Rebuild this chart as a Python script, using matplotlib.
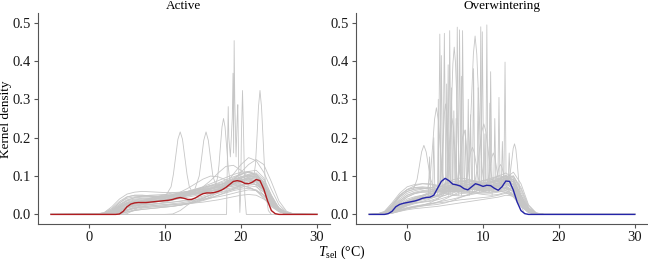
import numpy as np
import matplotlib.pyplot as plt

plt.rcParams['font.family'] = ['Liberation Serif', 'DejaVu Serif']
plt.rcParams['mathtext.fontset'] = 'custom'
plt.rcParams['mathtext.rm'] = 'Liberation Serif'
plt.rcParams['mathtext.it'] = 'Liberation Serif:italic'
plt.rcParams['font.size'] = 9

# ---- Active: individual densities on a 1 degree grid ----
active_grid = list(range(1, 28))
active_curves = [
    [0, .002, .01, .025, .035, .04, .042, .043, .044, .046, .048, .05, .052, .055, .06, .065, .07, .075, .08, .085, .09, .085, .06, .025, .008, .002, 0],
    [0, .001, .006, .018, .03, .036, .038, .04, .042, .045, .05, .054, .056, .058, .062, .068, .075, .082, .09, .095, .1, .095, .07, .03, .008, .001, 0],
    [.001, .005, .02, .04, .053, .058, .06, .059, .058, .057, .057, .058, .06, .062, .065, .068, .07, .072, .074, .075, .072, .062, .042, .02, .007, .002, 0],
    [0, .001, .004, .012, .02, .024, .026, .027, .028, .03, .032, .035, .038, .042, .048, .055, .063, .072, .08, .088, .092, .088, .068, .035, .012, .003, 0],
    [0, .002, .012, .03, .045, .05, .05, .048, .046, .045, .045, .047, .05, .054, .058, .062, .066, .07, .078, .088, .098, .1, .08, .04, .012, .002, 0],
    [0, 0, .002, .008, .018, .028, .034, .038, .042, .046, .05, .055, .06, .065, .07, .076, .082, .09, .098, .105, .11, .1, .07, .03, .008, .001, 0],
    [0, .001, .005, .012, .018, .022, .024, .026, .028, .03, .032, .034, .036, .038, .04, .043, .046, .05, .055, .06, .064, .062, .05, .03, .012, .003, 0],
    [0, .002, .01, .022, .032, .038, .04, .042, .045, .048, .052, .056, .06, .065, .07, .075, .078, .08, .082, .085, .088, .085, .068, .04, .015, .004, 0],
    [0, 0, .003, .01, .02, .028, .032, .035, .037, .04, .043, .046, .05, .055, .06, .066, .074, .084, .095, .105, .112, .115, .095, .05, .015, .003, 0],
    [0, .001, .008, .02, .03, .034, .036, .038, .04, .042, .046, .05, .055, .06, .064, .068, .072, .078, .085, .09, .092, .086, .064, .032, .01, .002, 0],
    [0, 0, 0, 0, 0, 0, 0, 0, 0, 0, .001, .01, .025, .038, .045, .05, .055, .06, .065, .07, .075, .072, .058, .035, .012, .003, 0],
    [0, 0, .001, .004, .01, .016, .02, .022, .024, .026, .028, .03, .033, .037, .042, .05, .062, .08, .105, .13, .148, .14, .11, .065, .025, .006, .001],
    [0, 0, 0, .002, .006, .01, .013, .015, .017, .019, .021, .024, .028, .032, .038, .046, .057, .072, .09, .11, .13, .143, .13, .085, .035, .008, .001],
    [0, 0, .002, .006, .012, .018, .022, .025, .028, .032, .037, .043, .05, .06, .072, .088, .108, .125, .128, .115, .095, .075, .05, .025, .008, .002, 0],
    [0, .001, .004, .01, .018, .024, .028, .032, .036, .042, .05, .058, .068, .08, .092, .1, .098, .09, .08, .075, .07, .062, .045, .022, .007, .001, 0],
    [0, 0, .001, .004, .01, .016, .02, .022, .024, .025, .026, .027, .028, .03, .032, .035, .038, .042, .046, .05, .052, .05, .04, .025, .01, .002, 0],
    [.001, .004, .014, .03, .042, .046, .047, .047, .047, .048, .05, .052, .054, .056, .058, .06, .063, .066, .07, .075, .08, .078, .062, .035, .012, .003, 0],
    [0, .001, .006, .016, .026, .032, .035, .037, .04, .043, .047, .052, .057, .062, .066, .07, .075, .082, .09, .098, .105, .104, .085, .045, .014, .003, 0],
    [0, 0, .002, .008, .016, .022, .026, .03, .034, .038, .042, .046, .05, .054, .058, .062, .066, .07, .074, .078, .08, .078, .065, .042, .018, .005, .001],
    [0, .001, .007, .018, .028, .033, .035, .036, .037, .039, .042, .046, .05, .053, .055, .056, .058, .062, .068, .076, .085, .09, .078, .045, .014, .003, 0],
    [0, .001, .005, .014, .024, .03, .034, .038, .042, .046, .05, .055, .06, .066, .072, .08, .088, .096, .104, .11, .112, .105, .08, .04, .012, .002, 0],
    [0, 0, .001, .003, .007, .012, .016, .019, .021, .023, .025, .027, .03, .034, .038, .044, .05, .056, .062, .066, .068, .064, .05, .03, .012, .003, 0],
    [0, .001, .008, .022, .036, .044, .048, .05, .051, .052, .053, .055, .058, .062, .068, .074, .08, .086, .092, .098, .102, .098, .075, .035, .01, .002, 0],
    [0, 0, .001, .005, .012, .02, .026, .03, .033, .036, .04, .044, .048, .052, .056, .06, .066, .074, .084, .094, .104, .108, .09, .05, .016, .003, 0],
    [0, .002, .009, .02, .028, .031, .032, .033, .035, .038, .042, .047, .052, .056, .059, .062, .066, .072, .08, .088, .094, .092, .072, .038, .012, .002, 0],
    [0, 0, 0, .002, .006, .01, .013, .015, .017, .019, .021, .024, .028, .034, .042, .052, .064, .078, .092, .104, .11, .104, .082, .045, .015, .003, 0],
    [.001, .004, .016, .034, .046, .05, .05, .049, .048, .048, .049, .05, .052, .055, .06, .066, .072, .078, .084, .09, .095, .092, .072, .036, .011, .002, 0],
    [0, 0, 0, 0, .002, .012, .03, .042, .046, .048, .05, .052, .055, .058, .062, .066, .07, .074, .078, .082, .085, .082, .065, .036, .012, .002, 0],
    [0, .001, .005, .013, .021, .026, .029, .031, .033, .035, .038, .041, .045, .049, .054, .06, .067, .075, .084, .094, .102, .1, .08, .042, .013, .002, 0],
    [0, .001, .006, .016, .026, .032, .036, .04, .046, .052, .056, .056, .054, .055, .06, .068, .076, .082, .086, .09, .096, .098, .08, .042, .013, .002, 0],
    [0, 0, .002, .006, .012, .016, .018, .019, .02, .021, .022, .024, .027, .031, .036, .042, .05, .058, .066, .074, .08, .078, .062, .035, .012, .003, 0],
    [0, .002, .011, .026, .038, .043, .045, .046, .047, .048, .05, .053, .057, .062, .067, .072, .077, .082, .088, .094, .1, .097, .076, .038, .012, .002, 0],
]
# peaked individuals (temperature, density)
active_peaks_x = [
    [10.2, 10.8, 11.1, 11.4, 11.7, 12.0, 12.3, 12.6, 12.9, 13.2, 13.8],
    [13.9, 14.5, 14.8, 15.1, 15.4, 15.7, 16.0, 16.3, 16.9],
    [16.6, 16.9, 17.1, 17.3, 17.5, 17.7, 17.9, 18.1, 18.3, 18.5, 18.8],
    [-5, 18.1, 18.25, 18.32, 18.4, 18.6, 18.85, 18.95, 19.03, 19.1, 19.18, 19.35, 19.5, 19.58,
     19.7, 19.85, 19.95, 20.05, 20.2, 20.35, 20.5, 20.7, 30],
    [21.4, 21.7, 21.9, 22.1, 22.3, 22.5, 22.7, 22.9, 23.1, 23.3, 23.6, 24.0],
]
active_peaks_y = [
    [.052, .072, .104, .15, .196, .215, .196, .15, .104, .072, .052],
    [.064, .1, .145, .193, .215, .193, .145, .1, .064],
    [.074, .094, .128, .179, .228, .25, .228, .179, .128, .094, .074],
    [0, 0, .2, .281, .2, .15, .25, .368, .16, .453, .3, .15, .25, .286,
     .12, .005, .05, .2, .323, .2, .05, 0, 0],
    [.09, .1, .13, .2, .28, .323, .28, .2, .12, .05, .01, 0],
]
active_mean_x = [-5, 3.5, 4.0, 4.5, 5.0, 5.5, 6.0, 6.5, 7.0, 7.5, 8.0, 8.5, 9.0, 9.5, 10.0, 10.5,
                 11.0, 11.5, 12.0, 12.5, 13.0, 13.5, 14.0, 14.5, 15.0, 15.5, 16.0, 16.5, 17.0,
                 17.5, 18.0, 18.5, 19.0, 19.5, 20.0, 20.5, 21.0, 21.5, 22.0, 22.5, 23.0, 23.5,
                 24.0, 24.5, 25.0, 30]
active_mean_y = [0, 0, .001, .008, .020, .027, .030, .031, .031, .031, .032, .033, .034, .035, .036,
                 .037, .039, .042, .044, .042, .039, .039, .043, .049, .054, .056, .056, .057,
                 .060, .064, .070, .078, .086, .088, .086, .081, .080, .084, .091, .088, .066,
                 .035, .010, .002, 0, 0]

# ---- Overwintering ----
winter_grid = list(range(-4, 19))
winter_curves = [
    [0, .004, .02, .045, .06, .066, .068, .066, .063, .062, .064, .068, .07, .066, .062, .064, .07, .075, .06, .025, .006, .001, 0],
    [.001, .008, .03, .055, .072, .078, .08, .078, .074, .07, .066, .062, .06, .058, .056, .055, .058, .062, .05, .022, .005, .001, 0],
    [0, .002, .01, .022, .032, .038, .042, .046, .052, .06, .068, .074, .078, .08, .082, .085, .09, .1, .085, .04, .01, .001, 0],
    [0, .001, .006, .015, .024, .03, .034, .04, .048, .058, .07, .08, .085, .086, .084, .082, .085, .095, .09, .05, .012, .002, 0],
    [0, .001, .005, .012, .018, .022, .025, .028, .03, .032, .035, .038, .04, .042, .044, .046, .05, .055, .05, .03, .01, .002, 0],
    [0, .003, .015, .035, .05, .056, .058, .058, .06, .065, .075, .085, .09, .088, .08, .072, .068, .07, .06, .03, .008, .001, 0],
    [0, .002, .012, .03, .045, .055, .06, .062, .06, .056, .05, .048, .05, .06, .075, .09, .1, .098, .075, .035, .008, .001, 0],
    [0, .001, .004, .01, .016, .02, .024, .03, .04, .055, .07, .08, .082, .078, .07, .068, .075, .09, .1, .065, .018, .003, 0],
    [.001, .006, .025, .05, .065, .07, .07, .067, .062, .06, .06, .062, .064, .065, .064, .062, .06, .058, .045, .02, .005, .001, 0],
    [0, .001, .008, .02, .03, .036, .04, .045, .05, .055, .06, .065, .07, .075, .08, .085, .09, .095, .08, .04, .01, .002, 0],
    [0, .002, .01, .024, .036, .044, .05, .058, .068, .078, .085, .088, .084, .076, .068, .062, .06, .062, .055, .03, .008, .001, 0],
    [0, .001, .004, .01, .016, .02, .022, .024, .026, .03, .036, .044, .052, .06, .068, .075, .082, .09, .085, .05, .015, .003, 0],
    [0, .003, .018, .04, .055, .062, .066, .07, .072, .072, .07, .068, .066, .068, .072, .078, .082, .08, .065, .03, .007, .001, 0],
    [0, .001, .006, .016, .028, .038, .046, .056, .068, .08, .09, .095, .092, .085, .08, .082, .09, .1, .085, .04, .01, .001, 0],
    [0, .002, .008, .018, .026, .03, .032, .034, .038, .044, .05, .054, .056, .055, .052, .05, .052, .058, .052, .028, .008, .001, 0],
    [0, .001, .005, .014, .024, .032, .04, .05, .062, .072, .078, .078, .074, .07, .068, .07, .078, .09, .1, .07, .022, .004, 0],
    [0, .004, .022, .048, .065, .075, .08, .08, .076, .07, .064, .06, .058, .06, .065, .07, .072, .068, .05, .022, .005, .001, 0],
    [0, .001, .003, .008, .014, .018, .022, .026, .032, .04, .05, .06, .068, .074, .078, .082, .088, .095, .11, .08, .025, .004, 0],
    [0, .002, .01, .024, .036, .042, .044, .044, .046, .05, .056, .062, .066, .064, .06, .058, .06, .066, .06, .032, .009, .001, 0],
    [0, .001, .007, .018, .03, .04, .048, .054, .058, .06, .06, .058, .056, .056, .06, .066, .074, .082, .072, .036, .009, .001, 0],
    [0, .002, .012, .028, .04, .046, .05, .054, .058, .062, .066, .07, .074, .078, .082, .086, .092, .102, .09, .045, .011, .002, 0],
    [0, .003, .016, .036, .05, .058, .062, .064, .066, .068, .07, .074, .078, .08, .078, .074, .072, .078, .07, .035, .009, .001, 0],
    [0, .001, .006, .016, .026, .034, .042, .05, .058, .066, .072, .076, .078, .082, .088, .094, .1, .108, .095, .05, .013, .002, 0],
    [0, .001, .004, .01, .016, .02, .024, .028, .032, .036, .04, .045, .05, .054, .056, .058, .062, .07, .066, .038, .012, .002, 0],
    [.001, .005, .022, .045, .06, .066, .068, .07, .072, .074, .076, .076, .072, .068, .066, .068, .074, .082, .07, .032, .008, .001, 0],
    [0, .002, .01, .024, .034, .04, .044, .05, .058, .068, .078, .086, .088, .084, .078, .074, .074, .082, .078, .04, .01, .001, 0],
    [0, .001, .005, .013, .022, .028, .032, .036, .042, .05, .06, .07, .078, .084, .088, .09, .094, .1, .1, .058, .016, .003, 0],
    [0, .003, .014, .032, .046, .054, .058, .06, .06, .06, .062, .066, .07, .072, .07, .066, .064, .068, .06, .03, .008, .001, 0],
    [0, .001, .003, .008, .012, .015, .017, .019, .021, .024, .027, .03, .033, .036, .039, .042, .045, .05, .048, .03, .01, .002, 0],
    [0, .002, .009, .022, .034, .042, .048, .054, .06, .064, .066, .066, .066, .07, .076, .082, .086, .09, .078, .038, .01, .001, 0],
    [0, .001, .007, .018, .028, .034, .038, .042, .048, .056, .066, .074, .078, .076, .072, .072, .08, .094, .092, .05, .013, .002, 0],
    [.001, .006, .026, .05, .064, .07, .072, .07, .066, .062, .06, .06, .062, .066, .07, .074, .076, .074, .058, .026, .006, .001, 0],
]
winter_peaks_x = [
    [4.1, 4.3, 4.5], [4.35, 4.5, 4.7], [4.7, 4.9, 5.1], [5.25, 5.4, 5.55], [5.45, 5.6, 5.8],
    [6.45, 6.6, 6.8], [6.75, 6.9, 7.1], [7.15, 7.3, 7.5], [9.55, 9.7, 9.85], [9.75, 9.9, 10.1],
    [10.35, 10.5, 10.65], [10.85, 11.0, 11.2], [11.95, 12.1, 12.25], [12.75, 12.9, 13.05],
    [5.1, 5.2, 5.35], [7.9, 8.05, 8.2], [6.0, 6.15, 6.3], [10.75, 10.9, 11.05],
    [3.35, 3.5, 3.65], [4.0, 4.1, 4.2], [5.7, 5.85, 6.0], [6.35, 6.45, 6.55], [7.0, 7.15, 7.3],
    [7.55, 7.7, 7.85], [8.2, 8.35, 8.5], [9.2, 9.35, 9.5], [10.1, 10.25, 10.4], [11.4, 11.55, 11.7],
    [12.4, 12.55, 12.7], [13.3, 13.45, 13.6], [8.6, 8.75, 8.9], [2.8, 2.95, 3.1],
    [0.8, 1.3, 1.6, 1.9, 2.2, 2.5, 2.8, 3.1, 3.6],
    [2.7, 3.1, 3.35, 3.6, 3.85, 4.1, 4.35, 4.6, 5.0],
    [4.25, 4.45, 4.6, 4.75, 4.9, 5.05, 5.2, 5.35, 5.5, 5.65, 5.85],
    [5.25, 5.5, 5.675, 5.85, 6.025, 6.2, 6.375, 6.55, 6.725, 6.9, 7.15],
    [6.4, 6.7, 6.9, 7.1, 7.3, 7.5, 7.7, 7.9, 8.1, 8.3, 8.6],
    [7.25, 7.6, 7.85, 8.1, 8.35, 8.6, 8.85, 9.1, 9.35, 9.6, 9.95],
    [7.75, 8.05, 8.275, 8.5, 8.725, 8.95, 9.175, 9.4, 9.625, 9.85, 10.15],
    [8.6, 9.0, 9.275, 9.55, 9.825, 10.1, 10.375, 10.65, 10.925, 11.2, 11.6],
    [10.25, 10.55, 10.75, 10.95, 11.15, 11.35, 11.55, 11.75, 11.95, 12.15, 12.45],
    [11.35, 11.6, 11.775, 11.95, 12.125, 12.3, 12.475, 12.65, 12.825, 13.0, 13.25],
    [13.25, 13.45, 13.625, 13.8, 13.975, 14.15, 14.325, 14.5, 14.675, 14.85, 15.1, 15.4],
    [4.95, 5.2, 5.375, 5.55, 5.725, 5.9, 6.075, 6.25, 6.425, 6.6, 6.85],
]
winter_peaks_y = [
    [.06, .47, .05], [.05, .414, .06], [.07, .472, .06], [.06, .39, .07], [.05, .479, .06],
    [.06, .488, .05], [.07, .481, .06], [.05, .479, .07], [.06, .489, .06], [.07, .476, .06],
    [.06, .494, .07], [.06, .372, .05], [.07, .305, .06], [.08, .397, .07],
    [.06, .34, .07], [.06, .3, .05], [.05, .27, .06], [.06, .29, .07],
    [.06, .2, .06], [.05, .3, .06], [.06, .33, .07], [.07, .25, .06], [.06, .36, .07],
    [.07, .22, .06], [.06, .26, .07], [.07, .33, .06], [.06, .21, .07], [.06, .25, .07],
    [.07, .19, .08], [.08, .16, .08], [.06, .38, .06], [.05, .15, .06],
    [.065, .091, .126, .163, .18, .163, .126, .091, .065],
    [.068, .114, .178, .247, .278, .247, .178, .114, .068],
    [.076, .099, .141, .202, .262, .288, .262, .202, .141, .099, .076],
    [.079, .119, .189, .292, .393, .436, .393, .292, .189, .119, .079],
    [.064, .082, .112, .157, .201, .22, .201, .157, .112, .082, .064],
    [.063, .076, .097, .13, .161, .175, .161, .13, .097, .076, .063],
    [.081, .123, .198, .31, .418, .465, .418, .31, .198, .123, .081],
    [.074, .092, .124, .171, .216, .236, .216, .171, .124, .092, .074],
    [.072, .082, .099, .125, .149, .16, .149, .125, .099, .082, .072],
    [.081, .087, .096, .11, .124, .13, .124, .11, .096, .087, .081],
    [.085, .094, .114, .143, .172, .184, .17, .135, .095, .06, .02, .004],
    [.075, .094, .129, .179, .229, .25, .229, .179, .129, .094, .075],
]
winter_mean_x = [-5, -3.0, -2.5, -2.0, -1.5, -1.0, -0.5, 0.0, 0.5, 1.0, 1.5, 2.0, 2.5, 3.0, 3.5,
                 4.0, 4.5, 5.0, 5.5, 6.0, 6.5, 7.0, 7.5, 8.0, 8.5, 9.0, 9.5, 10.0, 10.5, 11.0,
                 11.5, 12.0, 12.5, 13.0, 13.5, 14.0, 14.5, 15.0, 15.5, 16.0, 30]
winter_mean_y = [0, 0, .002, .008, .020, .026, .029, .031, .033, .035, .038, .042, .044, .045, .050,
                 .068, .086, .094, .088, .079, .077, .074, .067, .064, .072, .080, .077, .073,
                 .076, .075, .068, .063, .072, .087, .086, .063, .032, .010, .002, 0, 0]

GREY = '#c6c6c6'
AXIS = '#555555'


def draw_panel(ax, title, grid, curves, peaks_x, peaks_y, mean_x, mean_y, colour):
    for vals in curves:
        ax.plot([-5] + grid + [30], [0] + vals + [0], color=GREY, lw=0.6, zorder=1)
    for px, py in zip(peaks_x, peaks_y):
        ax.plot(px, py, color=GREY, lw=0.6, zorder=1)
    ax.plot(mean_x, mean_y, color=colour, lw=1.0, zorder=3)

    ax.set_xlim(-6.75, 31.75)
    ax.set_ylim(-0.025, 0.525)
    ax.set_xticks([0, 10, 20, 30])
    ax.set_yticks([0, 0.1, 0.2, 0.3, 0.4, 0.5])
    ax.set_yticklabels(['0.0', '0.1', '0.2', '0.3', '0.4', '0.5'])
    for side in ['top', 'right']:
        ax.spines[side].set_visible(False)
    for side in ['left', 'bottom']:
        ax.spines[side].set_color(AXIS)
        ax.spines[side].set_linewidth(0.8)
    ax.tick_params(length=3, width=0.8, color=AXIS, labelsize=10.5,
                   labelcolor='#1a1a1a', pad=2)
    ax.set_title(title, fontsize=9.5, pad=3)


fig = plt.figure(figsize=(6.48, 2.64), dpi=100)
ax1 = fig.add_axes([0.0582, 0.1515, 0.4515, 0.7993])
ax2 = fig.add_axes([0.5494, 0.1515, 0.4506, 0.7993])

draw_panel(ax1, 'Active', active_grid, active_curves, active_peaks_x, active_peaks_y,
           active_mean_x, active_mean_y, '#b01c20')
draw_panel(ax2, 'Overwintering', winter_grid, winter_curves, winter_peaks_x, winter_peaks_y,
           winter_mean_x, winter_mean_y, '#2424a8')

fig.text(0.0095, 0.55, 'Kernel density', rotation=90, ha='center', va='center', fontsize=9.5)
fig.text(0.528, 0.045, r'$T_\mathrm{sel}$ (°C)', ha='center', va='center', fontsize=10)

fig.savefig('out.png', dpi=100)
